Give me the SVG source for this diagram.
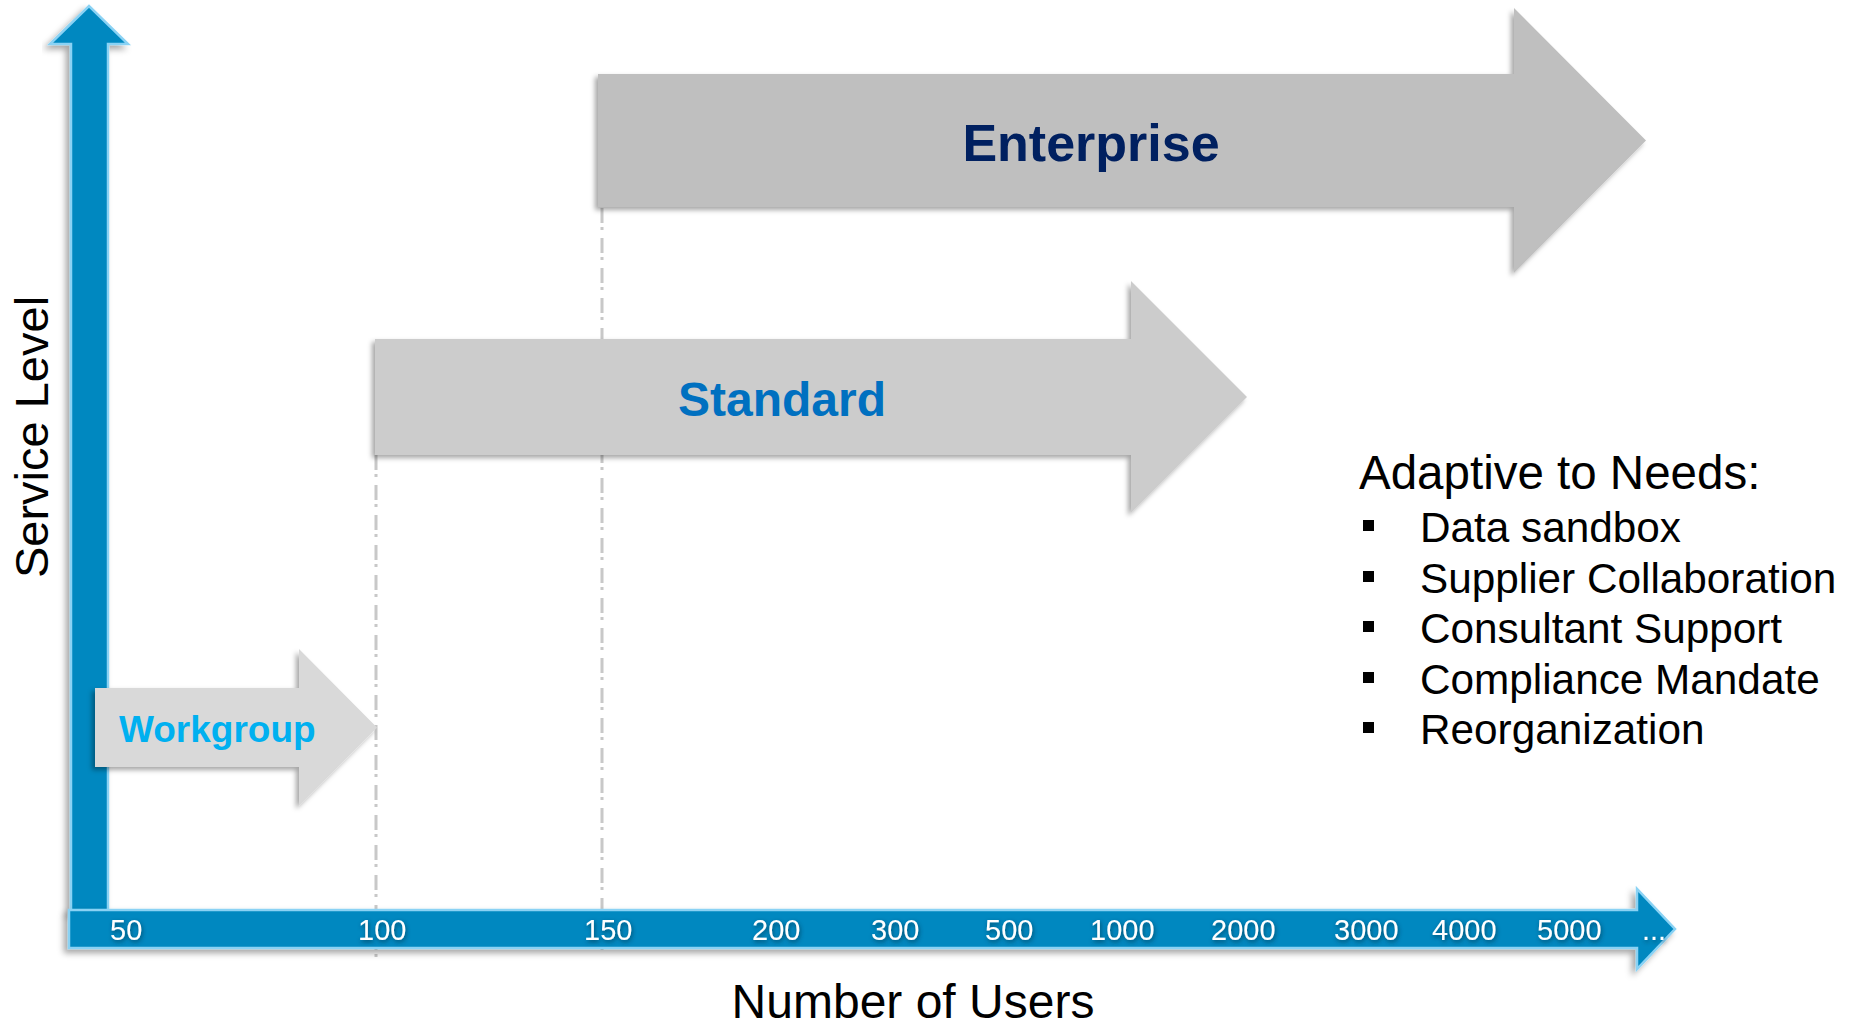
<svg xmlns="http://www.w3.org/2000/svg" width="1854" height="1026" viewBox="0 0 1854 1026">
  <defs>
    <filter id="shadow" x="-10%" y="-10%" width="120%" height="130%">
      <feDropShadow dx="-3" dy="3" stdDeviation="2.5" flood-color="#000" flood-opacity="0.35"/>
    </filter>
    <filter id="axisShadow" x="-10%" y="-10%" width="120%" height="130%">
      <feDropShadow dx="-4" dy="4" stdDeviation="3" flood-color="#000" flood-opacity="0.35"/>
    </filter>
    <filter id="textShadow" x="-20%" y="-30%" width="140%" height="170%">
      <feDropShadow dx="1" dy="2" stdDeviation="2" flood-color="#00304a" flood-opacity="0.7"/>
    </filter>
    <filter id="lineShadow" filterUnits="userSpaceOnUse" x="0" y="0" width="1854" height="1026">
      <feGaussianBlur stdDeviation="0.7"/>
    </filter>
  </defs>
  <style>
    .axis { fill: #0088c0; stroke: #8ad2f4; stroke-width: 2.5; stroke-linejoin: miter; }
    .tick { font-family: "Liberation Sans", Arial, sans-serif; font-size: 29px; fill: #ffffff; }
    .guide { stroke: #c8c8c8; stroke-width: 3; stroke-dasharray: 15 4 3 8; fill: none; }
    .big { font-family: "Liberation Sans", Arial, sans-serif; fill: #000000; }
    .tier { font-family: "Liberation Sans", Arial, sans-serif; font-weight: bold; }
    .item { font-family: "Liberation Sans", Arial, sans-serif; font-size: 42.3px; fill: #000000; }
  </style>
  <rect width="1854" height="1026" fill="#ffffff"/>

  <g id="connectors" filter="url(#lineShadow)">
    <line class="guide" x1="376" y1="455" x2="376" y2="958"/>
    <line class="guide" x1="602" y1="208" x2="602" y2="958"/>
  </g>

  <g id="enterprise">
    <polygon points="598,74 1514,74 1514,8 1646,140.5 1514,273 1514,207 598,207" fill="#bfbfbf" filter="url(#shadow)"/>
    <text class="tier" x="1091" y="161" font-size="52" fill="#002060" text-anchor="middle">Enterprise</text>
  </g>

  <g id="standard">
    <polygon points="375,339 1131,339 1131,281 1247,397 1131,513 1131,455 375,455" fill="#cccccc" filter="url(#shadow)"/>
    <text class="tier" x="782" y="416" font-size="48" fill="#0070c0" text-anchor="middle">Standard</text>
  </g>

  <g id="axis-y">
    <polygon class="axis" points="71,912 71,44 50,44 89,6 128,44 108,44 108,912" filter="url(#axisShadow)"/>
  </g>

  <g id="workgroup">
    <polygon points="95,688 299,688 299,649 377,727.5 299,806 299,767 95,767" fill="#d9d9d9" filter="url(#shadow)"/>
    <text class="tier" x="119" y="742" font-size="37" fill="#00b0f0">Workgroup</text>
  </g>

  <g id="axis-x">
    <polygon class="axis" points="69,910 1637,910 1637,889 1675,929 1637,969 1637,948 69,948" filter="url(#axisShadow)"/>
    <g filter="url(#textShadow)">
      <text class="tick" x="110" y="940">50</text>
      <text class="tick" x="358" y="940">100</text>
      <text class="tick" x="584" y="940">150</text>
      <text class="tick" x="752" y="940">200</text>
      <text class="tick" x="871" y="940">300</text>
      <text class="tick" x="985" y="940">500</text>
      <text class="tick" x="1090" y="940">1000</text>
      <text class="tick" x="1211" y="940">2000</text>
      <text class="tick" x="1334" y="940">3000</text>
      <text class="tick" x="1432" y="940">4000</text>
      <text class="tick" x="1537" y="940">5000</text>
      <text class="tick" x="1642" y="940">...</text>
    </g>
  </g>

  <g id="axis-titles">
    <text class="big" x="913" y="1018" font-size="48" text-anchor="middle">Number of Users</text>
    <text class="big" x="0" y="0" font-size="47" text-anchor="middle" transform="translate(48,437) rotate(-90)">Service Level</text>
  </g>

  <g id="needs">
    <text class="big" x="1359" y="489" font-size="47.5">Adaptive to Needs:</text>
    <rect x="1363" y="520" width="11" height="11" fill="#000"/>
    <text class="item" x="1420" y="542">Data sandbox</text>
    <rect x="1363" y="571" width="11" height="11" fill="#000"/>
    <text class="item" x="1420" y="593">Supplier Collaboration</text>
    <rect x="1363" y="621" width="11" height="11" fill="#000"/>
    <text class="item" x="1420" y="643">Consultant Support</text>
    <rect x="1363" y="672" width="11" height="11" fill="#000"/>
    <text class="item" x="1420" y="694">Compliance Mandate</text>
    <rect x="1363" y="722" width="11" height="11" fill="#000"/>
    <text class="item" x="1420" y="744">Reorganization</text>
  </g>
</svg>
